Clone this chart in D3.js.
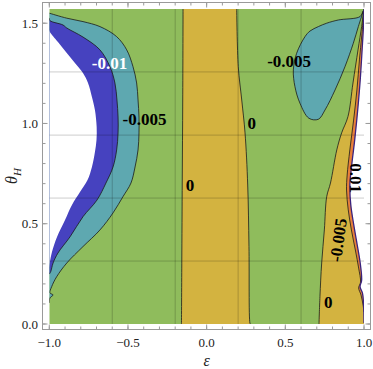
<!DOCTYPE html>
<html>
<head>
<meta charset="utf-8">
<script src="https://cdn.jsdelivr.net/npm/d3@7"></script>
<style>
  body { margin: 0; background: #fff; }
</style>
</head>
<body>
<svg id="chart" width="373" height="369" font-family="'Liberation Serif', 'Times New Roman', Times, serif"></svg>
<script>
// --- ticks y rejilla ---
const epsTicks = [-1, -0.5, 0, 0.5, 1];
const epsTickLabels = ["\u22121.0", "\u22120.5", "0.0", "0.5", "1.0"];
const thetaTicks = [0, 0.5, 1, 1.5];
const thetaTickLabels = ["0.0", "0.5", "1.0", "1.5"];
const gridEps = [-0.6, -0.2, 0.2, 0.6];
const gridTheta = [0.314, 0.628, 0.942, 1.257];

// --- contornos, en [epsilon, theta] ---
// borde izquierdo de la zona sin valor (blanco)
const edgeLeft = [[-1.000, 1.468], [-0.996, 1.456], [-0.945, 1.406], [-0.889, 1.352], [-0.837, 1.302],
  [-0.786, 1.252], [-0.754, 1.202], [-0.729, 1.132], [-0.710, 1.067], [-0.699, 0.983], [-0.700, 0.918],
  [-0.710, 0.858], [-0.729, 0.783], [-0.757, 0.718], [-0.805, 0.658], [-0.856, 0.594], [-0.900, 0.519],
  [-0.951, 0.434], [-0.983, 0.359], [-0.996, 0.309], [-1.000, 0.279]];
// nivel -0.01
const contourM010 = [[-1.000, 1.526], [-0.996, 1.513], [-0.913, 1.491], [-0.889, 1.476], [-0.786, 1.431],
  [-0.678, 1.367], [-0.614, 1.282], [-0.583, 1.202], [-0.570, 1.117], [-0.563, 1.032], [-0.563, 0.953],
  [-0.572, 0.868], [-0.595, 0.783], [-0.640, 0.703], [-0.697, 0.618], [-0.786, 0.535], [-0.868, 0.435],
  [-0.945, 0.354], [-0.976, 0.304], [-0.991, 0.261], [-1.000, 0.249]];
// nivel -0.005 (izquierda)
const contourM005 = [[-1.000, 1.550], [-0.889, 1.525], [-0.786, 1.508], [-0.678, 1.483], [-0.572, 1.433],
  [-0.508, 1.367], [-0.468, 1.283], [-0.445, 1.202], [-0.436, 1.117], [-0.430, 1.032], [-0.430, 0.953],
  [-0.436, 0.868], [-0.455, 0.783], [-0.481, 0.703], [-0.532, 0.635], [-0.595, 0.554], [-0.678, 0.469],
  [-0.786, 0.386], [-0.889, 0.304], [-0.953, 0.236], [-0.985, 0.186], [-0.996, 0.155], [-0.976, 0.145],
  [-0.996, 0.130], [-1.000, 0.105]];
// isla -0.005 (arriba a la derecha)
const islandM005 = [[0.994, 1.561], [0.975, 1.533], [0.837, 1.516], [0.763, 1.500], [0.710, 1.483],
  [0.657, 1.461], [0.625, 1.433], [0.572, 1.350], [0.551, 1.267], [0.561, 1.184], [0.593, 1.101],
  [0.650, 1.026], [0.710, 1.021], [0.752, 1.067], [0.816, 1.167], [0.879, 1.283], [0.932, 1.400],
  [0.964, 1.483]];
// nivel 0
const contourZeroLeft = [[-0.150, 1.571], [-0.152, 1.117], [-0.155, 0.718], [-0.158, 0.300], [-0.160, 0]];
const contourZeroMid = [[0.191, 1.571], [0.201, 1.283], [0.223, 1.117], [0.244, 0.953], [0.261, 0.693],
  [0.269, 0.386], [0.275, 0.005], [0.278, 0]];
const contourZeroRight = [[0.714, 0], [0.720, 0.136], [0.731, 0.304], [0.748, 0.469], [0.763, 0.635],
  [0.787, 0.703], [0.827, 0.868], [0.858, 0.953], [0.898, 1.034], [0.930, 1.202], [0.962, 1.367],
  [0.985, 1.483], [0.996, 1.550], [1.000, 1.571]];
// nivel 0.005
const contourP005 = [[1.000, 1.566], [0.986, 1.441], [0.971, 1.317], [0.955, 1.167], [0.934, 1.017],
  [0.910, 0.868], [0.893, 0.743], [0.889, 0.668], [0.900, 0.569], [0.920, 0.469], [0.945, 0.369],
  [0.966, 0.279], [0.978, 0.209], [0.966, 0.180], [0.981, 0.145], [0.994, 0.095], [1.000, 0.060]];
// nivel 0.01 (borde de la zona blanca derecha)
const contourP010 = [[1.000, 1.571], [0.997, 1.491], [0.988, 1.367], [0.976, 1.217], [0.960, 1.067],
  [0.941, 0.918], [0.922, 0.793], [0.910, 0.693], [0.916, 0.594], [0.935, 0.494], [0.957, 0.394],
  [0.975, 0.309], [0.985, 0.219], [0.975, 0.185], [0.990, 0.155], [0.997, 0.105], [1.000, 0.005]];

// --- etiquetas de contorno ---
const labelTexts = ["-0.01", "-0.005", "-0.005", "0", "0", "0", "-0.005", "0.01"];
const labelEps = [-0.617, -0.395, 0.524, 0.286, -0.106, 0.773, 0.835, 0.950];
const labelTheta = [1.302, 1.022, 1.312, 1.003, 0.693, 0.107, 0.419, 0.728];
const labelAngles = [0, 0, 0, 0, 0, 0, -82, 90];
const labelColors = ["#fff", "#000", "#000", "#000", "#000", "#000", "#000", "#000"];

const colors = { blue: "#4642bf", teal: "#5ea8b0", green: "#8fbc5c", yellow: "#d3b340", orange: "#e8803a" };

// --- escalas ---
const svg = d3.select("#chart");
const x = d3.scaleLinear().domain([-1, 1]).range([49.3, 364]);
const y = d3.scaleLinear().domain([0, Math.PI / 2]).range([324, 9]);

const smooth = d3.line().x(d => x(d[0])).y(d => y(d[1])).curve(d3.curveCatmullRom.alpha(0.5));
const straight = d3.line().x(d => x(d[0])).y(d => y(d[1]));

// une varios tramos en un solo path cerrado
function joinPath(parts) {
  return parts.map((p, i) => (i === 0 ? p : p.replace(/^M/, "L"))).join("") + "Z";
}

svg.append("clipPath").attr("id", "plotClip")
  .append("rect")
  .attr("x", x(-1)).attr("y", y(Math.PI / 2))
  .attr("width", x(1) - x(-1)).attr("height", y(0) - y(Math.PI / 2));

const plot = svg.append("g").attr("clip-path", "url(#plotClip)");

// fondo verde (-0.005 .. 0)
plot.append("rect")
  .attr("x", x(-1)).attr("y", y(Math.PI / 2))
  .attr("width", x(1) - x(-1)).attr("height", y(0) - y(Math.PI / 2))
  .attr("fill", colors.green);

// banda amarilla central
plot.append("path")
  .attr("d", joinPath([smooth(contourZeroLeft), smooth(contourZeroMid.slice().reverse())]))
  .attr("fill", colors.yellow);

// zona amarilla derecha
plot.append("path")
  .attr("d", joinPath([smooth(contourZeroRight), straight([[1, Math.PI / 2], [1, 0]])]))
  .attr("fill", colors.yellow);

// banda naranja
plot.append("path").attr("d", smooth(contourP005) + "Z").attr("fill", colors.orange);
// zona blanca derecha
plot.append("path").attr("d", smooth(contourP010) + "Z").attr("fill", "#fff");

// lado izquierdo
plot.append("path").attr("d", smooth(contourM005) + "Z").attr("fill", colors.teal);
plot.append("path").attr("d", smooth(contourM010) + "Z").attr("fill", colors.blue);
plot.append("path").attr("d", smooth(edgeLeft) + "Z").attr("fill", "#fff");

// isla
const closed = d3.line().x(d => x(d[0])).y(d => y(d[1])).curve(d3.curveCatmullRomClosed.alpha(0.5));
plot.append("path").attr("d", closed(islandM005)).attr("fill", colors.teal);

// rejilla
plot.selectAll(".gx").data(gridEps).join("line")
  .attr("x1", d => x(d)).attr("x2", d => x(d))
  .attr("y1", y(0)).attr("y2", y(Math.PI / 2))
  .attr("stroke", "#000").attr("stroke-opacity", 0.2).attr("stroke-width", 1);
plot.selectAll(".gy").data(gridTheta).join("line")
  .attr("x1", x(-1)).attr("x2", x(1))
  .attr("y1", d => y(d)).attr("y2", d => y(d))
  .attr("stroke", "#000").attr("stroke-opacity", 0.2).attr("stroke-width", 1);

// lineas de contorno
const lineSets = [contourM010, contourM005, contourZeroLeft, contourZeroMid, contourZeroRight, contourP005];
plot.selectAll(".cline").data(lineSets).join("path")
  .attr("d", d => smooth(d))
  .attr("fill", "none").attr("stroke", "#1a1a1a").attr("stroke-width", 0.8);
plot.append("path").attr("d", closed(islandM005))
  .attr("fill", "none").attr("stroke", "#1a1a1a").attr("stroke-width", 0.8);
plot.append("path").attr("d", smooth(contourP010))
  .attr("fill", "none").attr("stroke", "#3b237e").attr("stroke-width", 1.3);

// etiquetas
svg.append("g").selectAll("text").data(labelTexts).join("text")
  .attr("transform", (d, i) => `translate(${x(labelEps[i])},${y(labelTheta[i])}) rotate(${labelAngles[i]})`)
  .attr("text-anchor", "middle").attr("dy", "0.35em")
  .attr("font-size", 17).attr("font-weight", "bold").attr("fill", (d, i) => labelColors[i])
  .text(d => d);

// --- marco y ticks ---
const frame = { x0: 42.5, x1: 370.5, y0: 2.5, y1: 329.5 };
svg.append("rect")
  .attr("x", frame.x0).attr("y", frame.y0)
  .attr("width", frame.x1 - frame.x0).attr("height", frame.y1 - frame.y0)
  .attr("fill", "none").attr("stroke", "#9a9a9a").attr("stroke-width", 1);

const minorEps = d3.range(-10, 11).map(i => i / 10);
const minorTheta = d3.range(0, 16).map(i => i / 10);
const tickColor = "#9a9a9a";
const ticks = svg.append("g").attr("stroke", tickColor).attr("stroke-width", 1);
function hTicks(vals, len) {
  vals.forEach(v => {
    ticks.append("line").attr("x1", x(v)).attr("x2", x(v)).attr("y1", frame.y1).attr("y2", frame.y1 - len);
    ticks.append("line").attr("x1", x(v)).attr("x2", x(v)).attr("y1", frame.y0).attr("y2", frame.y0 + len);
  });
}
function vTicks(vals, len) {
  vals.forEach(v => {
    ticks.append("line").attr("y1", y(v)).attr("y2", y(v)).attr("x1", frame.x0).attr("x2", frame.x0 + len);
    ticks.append("line").attr("y1", y(v)).attr("y2", y(v)).attr("x1", frame.x1).attr("x2", frame.x1 - len);
  });
}
hTicks(minorEps, 3); hTicks(epsTicks, 5);
vTicks(minorTheta, 3); vTicks(thetaTicks, 5);

svg.append("g").selectAll("text").data(epsTicks).join("text")
  .attr("x", d => x(d)).attr("y", 346.5)
  .attr("text-anchor", "middle").attr("font-size", 13).attr("fill", "#222")
  .text((d, i) => epsTickLabels[i]);
svg.append("g").selectAll("text").data(thetaTicks).join("text")
  .attr("x", 38).attr("y", d => y(d)).attr("dy", "0.35em")
  .attr("text-anchor", "end").attr("font-size", 13).attr("fill", "#222")
  .text((d, i) => thetaTickLabels[i]);

// titulos de ejes
svg.append("text").attr("x", x(0)).attr("y", 366)
  .attr("text-anchor", "middle").attr("font-size", 16).attr("font-style", "italic").attr("fill", "#222")
  .text("\u03b5");
const yl = svg.append("text").attr("transform", "translate(17,176) rotate(-90)")
  .attr("text-anchor", "middle").attr("font-size", 16).attr("font-style", "italic").attr("fill", "#222");
yl.append("tspan").text("\u03b8");
yl.append("tspan").attr("font-size", 11).attr("dy", 4).text("H");
</script>
</body>
</html>
